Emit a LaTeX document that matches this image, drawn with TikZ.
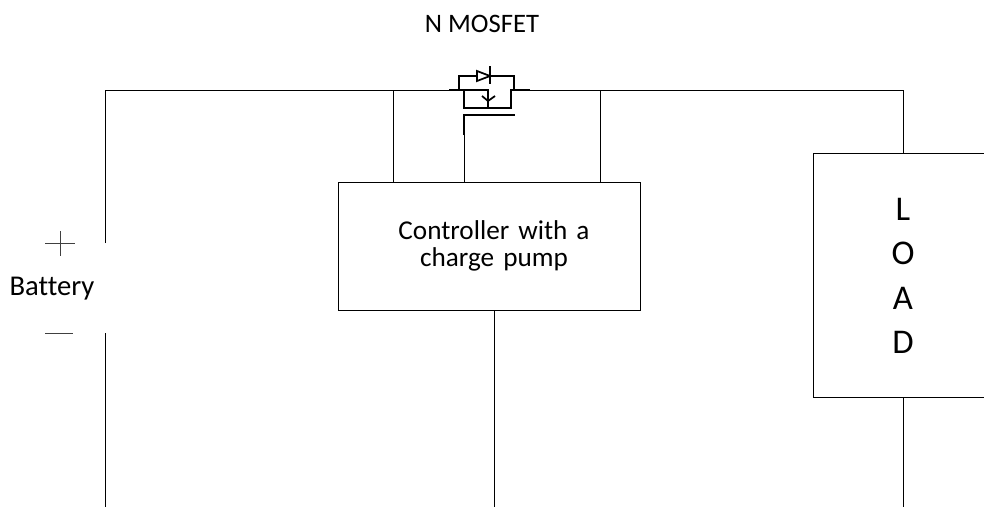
\documentclass[tikz,border=0pt]{standalone}
\usepackage{fontspec}
\setmainfont[Ligatures=NoCommon]{Carlito}
\tikzset{
    main-box/.style = {draw=black, fill=white, rectangle, inner sep=0pt, line width=0.6pt},
    wire/.style = {draw=black, line width=0.6pt},
    mos-wire/.style = {draw=black, line width=1.3pt},
    label-text/.style = {font=\fontsize{20.4}{20.3}\selectfont, align=center, inner sep=0pt},
    sign-line/.style = {draw=black!75, line width=0.5pt},
}

\begin{document}
\begin{tikzpicture}[x=0.75pt, y=-0.75pt]
\useasboundingbox (0,0) rectangle (984,507);
\clip (0,0) rectangle (984,507);

\node [main-box, minimum width=226.5pt, minimum height=96pt] (controller) at (489,246) {};
\node [label-text, text width=200pt] (controller-text) at (494,246) {Controller with a\\charge pump};
\node [main-box, minimum width=135pt, minimum height=183pt] (load) at (903,275) {};
\node [label-text, font=\fontsize{26}{33.2}\selectfont, text width=20pt] (load-text) at (903,276) {L\\O\\A\\D};
\node [label-text, font=\fontsize{20}{20.3}\selectfont] (mosfet-text) at (482,24) {N MOSFET};
\node [label-text, font=\fontsize{21.5}{20.3}\selectfont] (battery-text) at (52,289) {Battery};

% free ends
\coordinate (bat-top) at (105,243);
\coordinate (bat-bottom) at (105,333);
\coordinate (bat-end) at (105,507);
\coordinate (ctl-end) at (494,507);
\coordinate (load-end) at (903,507);
\coordinate (mos-left) at (449,90);
\coordinate (mos-right) at (530,90);
\coordinate (gate-top) at (464,115);
\coordinate (gate-right) at (515,115);

% main wires
\draw [wire] (bat-top) |- (mos-left);
\draw [wire] (mos-right) -| (load.north);
\draw [wire] (393,90) -- (393,182);
\draw [wire] (600,90) -- (600,182);
\draw [wire] (gate-top) -- (464,182);
\draw [wire] (bat-bottom) -- (bat-end);
\draw [wire] (494,310) -- (ctl-end);
\draw [wire] (load.south) -- (load-end);

% battery signs
\draw [sign-line] (45,243) -- (75,243);
\draw [sign-line] (60,231) -- (60,256);
\draw [sign-line] (45,333) -- (73,333);

% mosfet
\draw [mos-wire] (mos-left) -- (464,90) -- (464,108) -- (511,108) -- (511,90) -- (mos-right);
\draw [mos-wire] (464,90) -- (488,90) -- (488,108);
\draw [mos-wire] (459,90) -- (459,76) -- (477,76);
\draw [mos-wire] (490,76) -- (514,76) -- (514,90);
\draw [mos-wire, fill=white] (477,71) -- (477,81) -- (490,76) -- cycle;
\draw [mos-wire] (490,66) -- (490,84);
\draw [mos-wire] (482,96) -- (488,101) -- (495,96);
\draw [mos-wire] (464,135) -- (gate-top) -- (gate-right);
\end{tikzpicture}
\end{document}
